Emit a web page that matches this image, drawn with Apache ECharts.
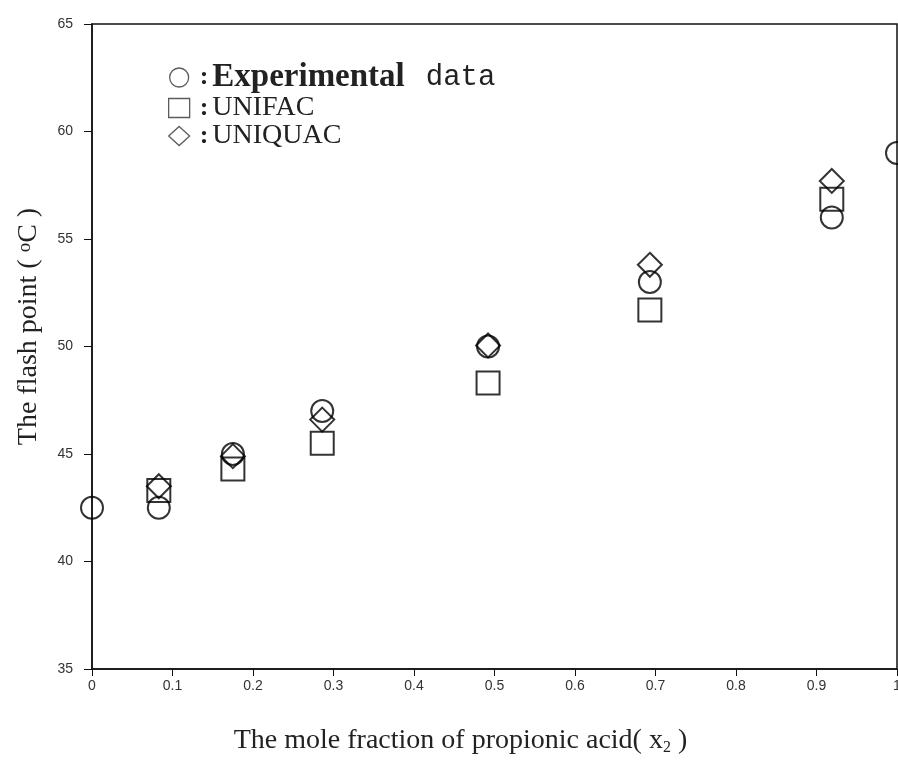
<!DOCTYPE html>
<html>
<head>
<meta charset="utf-8">
<script src="https://cdn.jsdelivr.net/npm/echarts@6/dist/echarts.min.js"></script>
<style>
  html, body { margin: 0; padding: 0; background: #fff; }
  #chart { width: 898px; height: 764px; }
</style>
</head>
<body>
<div id="chart"></div>
<script>
// mole fraction x2 of each measured mixture
var xExp = [0, 0.083, 0.175, 0.286, 0.492, 0.693, 0.919, 1.0];
var xCalc = [0.083, 0.175, 0.286, 0.492, 0.693, 0.919];
// flash point (oC)
var experimental = [42.5, 42.5, 45.0, 47.0, 50.0, 53.0, 56.0, 59.0];
var unifac = [43.3, 44.3, 45.5, 48.3, 51.7, 56.85];
var uniquac = [43.5, 44.9, 46.6, 50.05, 53.8, 57.7];

function pairs(xs, ys) {
  return xs.map(function (x, i) { return [x, ys[i]]; });
}

var chart = echarts.init(document.getElementById("chart"), null, { renderer: "canvas" });

var markerStyle = { color: "rgba(0,0,0,0)", borderColor: "#000", borderWidth: 2 };
var tickFont = { fontFamily: "Liberation Sans Narrow, Liberation Sans, Arial, sans-serif", fontSize: 14, color: "#333" };

var option = {
  animation: false,
  backgroundColor: "#fff",
  grid: {
    left: 92, right: 1, top: 24, bottom: 95,
    outerBoundsMode: "none",
    containLabel: false,
    show: true, borderColor: "#111", borderWidth: 1.5
  },
  legend: {
    orient: "vertical",
    left: 168, top: 61,
    padding: 0,
    itemWidth: 21, itemHeight: 19,
    itemGap: 0,
    itemStyle: { color: "rgba(0,0,0,0)", borderColor: "#333", borderWidth: 1.3 },
    data: ["Experimental data", "UNIFAC", "UNIQUAC"],
    formatter: function (name) {
      if (name === "Experimental data") return "{c|:}{b|Experimental}{m|data}";
      return "{c|:}{t|" + name + "}";
    },
    textStyle: {
      color: "#222",
      rich: {
        c: { fontFamily: "Liberation Serif, serif", fontSize: 26, fontWeight: "bold", padding: [0, 4, 0, 5], lineHeight: 24 },
        b: { fontFamily: "Liberation Serif, serif", fontSize: 33, fontWeight: "bold", lineHeight: 24 },
        m: { fontFamily: "Liberation Mono, monospace", fontSize: 29, lineHeight: 24, padding: [0, 0, 0, 21] },
        t: { fontFamily: "Liberation Serif, serif", fontSize: 28, lineHeight: 24 }
      }
    }
  },
  xAxis: {
    type: "value",
    min: 0, max: 1, interval: 0.1,
    splitLine: { show: false },
    axisLine: { lineStyle: { color: "#111", width: 1.5 } },
    axisTick: { inside: false, length: 7, lineStyle: { color: "#111" } },
    axisLabel: Object.assign({ margin: 10, formatter: function (v) { return String(+v.toFixed(1)); } }, tickFont),
    name: "{n|The mole fraction of propionic acid( x}{s|2}{n| )}",
    nameLocation: "middle",
    nameGap: 57,
    nameTextStyle: {
      padding: [0, 68, 0, 0],
      rich: {
        n: { fontFamily: "Liberation Serif, serif", fontSize: 28, color: "#222" },
        s: { fontFamily: "Liberation Serif, serif", fontSize: 16, color: "#222", padding: [14, 0, 0, 0] }
      }
    }
  },
  yAxis: {
    type: "value",
    min: 35, max: 65, interval: 5,
    splitLine: { show: false },
    axisLine: { show: true, lineStyle: { color: "#111", width: 1.5 } },
    axisTick: { show: true, inside: false, length: 8, lineStyle: { color: "#111" } },
    axisLabel: Object.assign({ margin: 19 }, tickFont),
    name: "{n|The flash point ( }{s|o}{n|C )}",
    nameLocation: "middle",
    nameGap: 49,
    nameTextStyle: {
      padding: [0, 0, 0, 40],
      rich: {
        n: { fontFamily: "Liberation Serif, serif", fontSize: 28, color: "#222" },
        s: { fontFamily: "Liberation Serif, serif", fontSize: 19, color: "#222", padding: [0, 0, 8, 0] }
      }
    }
  },
  series: [
    {
      name: "Experimental data", type: "scatter", symbol: "circle", symbolSize: 22,
      itemStyle: markerStyle, data: pairs(xExp, experimental), z: 3, clip: false
    },
    {
      name: "UNIFAC", type: "scatter", symbol: "rect", symbolSize: 23,
      itemStyle: markerStyle, data: pairs(xCalc, unifac), z: 2
    },
    {
      name: "UNIQUAC", type: "scatter", symbol: "diamond", symbolSize: 24,
      itemStyle: markerStyle, data: pairs(xCalc, uniquac), z: 4
    }
  ]
};

chart.setOption(option);
</script>
</body>
</html>
